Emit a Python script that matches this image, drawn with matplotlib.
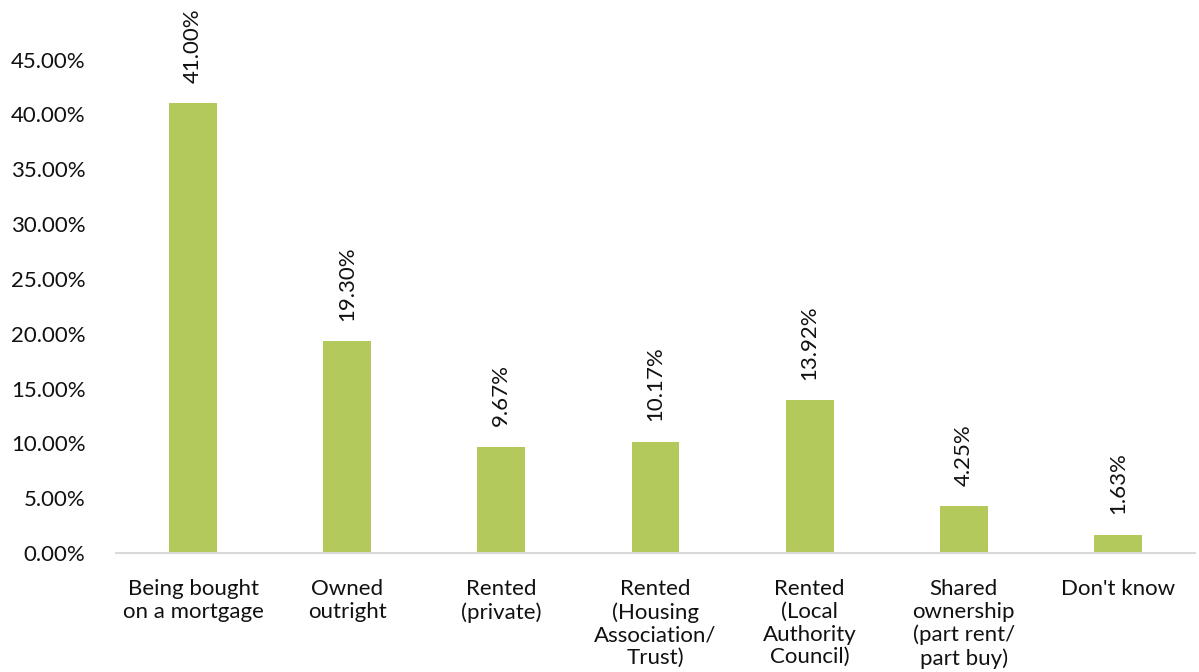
import numpy as np
import matplotlib.pyplot as plt

plt.rcParams['font.family'] = ['Lato', 'DejaVu Sans']

# tenure of households
categories = ['Being bought\non a mortgage', 'Owned\noutright', 'Rented\n(private)',
              'Rented\n(Housing\nAssociation/\nTrust)', 'Rented\n(Local\nAuthority\nCouncil)',
              'Shared\nownership\n(part rent/\npart buy)', "Don't know"]
shares = [41.00, 19.30, 9.67, 10.17, 13.92, 4.25, 1.63]

x_pos = np.arange(len(categories))

fig = plt.figure(figsize=(11.99, 6.72), dpi=100)
ax = fig.add_axes([0.0967, 0.177, 0.9, 0.816])
ax.bar(x_pos, shares, width=0.31, color='#b4c95b')

for x, v in zip(x_pos, shares):
    ax.annotate('%.2f%%' % v, (x, v), xytext=(0, 15), textcoords='offset points',
                rotation=90, ha='center', va='bottom', fontsize=16, color='#111111',
                clip_on=False)

ax.set_xlim(-0.5, len(categories) - 0.5)
ax.set_ylim(0, 50)
ax.set_yticks(np.arange(0, 46, 5))
ax.set_yticklabels(['%.2f%%' % t for t in np.arange(0, 46, 5)])
ax.set_xticks(x_pos)
ax.set_xticklabels(categories, linespacing=1.16)
ax.tick_params(axis='both', length=0, labelsize=16, colors='#111111')
ax.tick_params(axis='x', pad=19)
ax.tick_params(axis='y', pad=22)
for s in ['top', 'right', 'left']:
    ax.spines[s].set_visible(False)
ax.spines['bottom'].set_color('#d9d9d9')
ax.spines['bottom'].set_linewidth(1.5)

plt.savefig('out.png', dpi=100)
